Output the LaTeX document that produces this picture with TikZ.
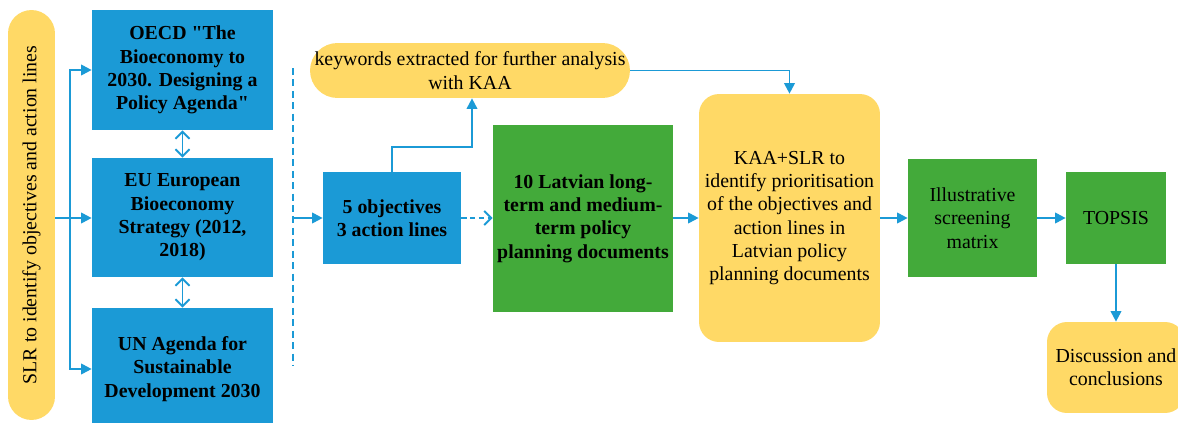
\documentclass[tikz,border=0pt]{standalone}
\usepackage{fontspec}
\setmainfont{Liberation Serif}[Ligatures=TeXOff]
\usetikzlibrary{arrows.meta}

\definecolor{boxblue}{RGB}{27,154,214}
\definecolor{boxgreen}{RGB}{67,170,58}
\definecolor{boxyellow}{RGB}{255,217,102}

\tikzset{
  box/.style={rectangle, draw=none, align=center, inner sep=1pt,
    font=\fontsize{11.3}{13.3}\selectfont},
  bluebox/.style={box, fill=boxblue, font=\fontsize{11.3}{13.3}\selectfont\bfseries},
  greenbox/.style={box, fill=boxgreen},
  yellowbox/.style={box, fill=boxyellow, rounded corners=0.4cm},
  pill/.style={box, fill=boxyellow, rounded corners=#1},
  flow/.style={draw=boxblue, line width=1.1pt, -{Triangle[length=6pt,width=6pt]}},
  openflow/.style={draw=boxblue, line width=1.1pt, -{Straight Barb[length=4pt,width=8pt]}},
  twoway/.style={draw=boxblue, line width=1.1pt, {Straight Barb[length=4pt,width=8pt]}-{Straight Barb[length=4pt,width=8pt]}},
  dashline/.style={draw=boxblue, line width=1.1pt, dash pattern=on 4pt off 2.5pt}
}

\begin{document}
\begin{tikzpicture}[x=0.02cm, y=-0.02cm]
		\useasboundingbox (0,0) rectangle (1178,423);

		\node[pill=0.47cm, rotate=90, minimum width=8.2cm, minimum height=0.94cm] (slr) at (31.5,215) {SLR to identify objectives and action lines};

		\node[bluebox, minimum width=3.62cm, minimum height=2.4cm] (oecd) at (182.5,70) {OECD "The\\Bioeconomy to\\2030. Designing a\\Policy Agenda"};
		\node[bluebox, minimum width=3.62cm, minimum height=2.38cm] (eu) at (182.5,217.5) {EU European\\Bioeconomy\\Strategy (2012,\\2018)};
		\node[bluebox, minimum width=3.62cm, minimum height=2.44cm] (un) at (182.5,369) {UN Agenda for\\Sustainable\\Development 2030};

		\node[bluebox, minimum width=2.76cm, minimum height=1.84cm] (obj) at (392,218) {5 objectives\\3 action lines};
		\node[pill=0.55cm, minimum width=6.4cm, minimum height=1.1cm] (kw) at (470,70.5) {keywords extracted for further analysis\\with KAA};
		\node[greenbox, font=\fontsize{11.3}{13.3}\selectfont\bfseries, minimum width=3.6cm, minimum height=3.74cm] (latv) at (583,218.5) {10 Latvian long-\\term and medium-\\term policy\\planning documents};
		\node[yellowbox, minimum width=3.62cm, minimum height=4.96cm] (kaa) at (789.5,218) {KAA+SLR to\\identify prioritisation\\of the objectives and\\action lines in\\Latvian policy\\planning documents};
		\node[greenbox, minimum width=2.58cm, minimum height=2.36cm] (ill) at (972.5,218) {Illustrative\\screening\\matrix};
		\node[greenbox, minimum width=2.0cm, minimum height=1.84cm] (top) at (1116,218) {TOPSIS};
		\node[yellowbox, minimum width=2.76cm, minimum height=1.82cm] (disc) at (1116,367.5) {Discussion and\\conclusions};

		% SLR branches
		\coordinate (split) at (70,218);
		\draw[flow] (slr.south |- split) -- (eu.west |- split);
		\draw[flow] (split) |- (oecd.west);
		\draw[flow] (split) |- (un.west);
		\draw[twoway] (oecd) -- (eu);
		\draw[twoway] (eu) -- (un);

		% dashed separator
		\coordinate (dtop) at (293,68);
		\coordinate (dbot) at (293,365);
		\draw[dashline] (dtop) -- (dbot);
		\draw[flow] (293,218) -- (obj.west);

		\draw[flow] (obj.north) -- ++(0,-25) -| ([xshift=0.04cm]kw.south);
		\draw[openflow, dash pattern=on 3pt off 2pt] (obj.east) -- (latv.west |- obj.east);
		\draw[flow] (kw.east) -| (kaa.north);
		\draw[flow] (latv.east |- kaa.west) -- (kaa.west);
		\draw[flow] (kaa.east) -- (ill.west);
		\draw[flow] (ill.east) -- (top.west);
		\draw[flow] (top.south) -- (disc.north);
	\end{tikzpicture}
\end{document}
